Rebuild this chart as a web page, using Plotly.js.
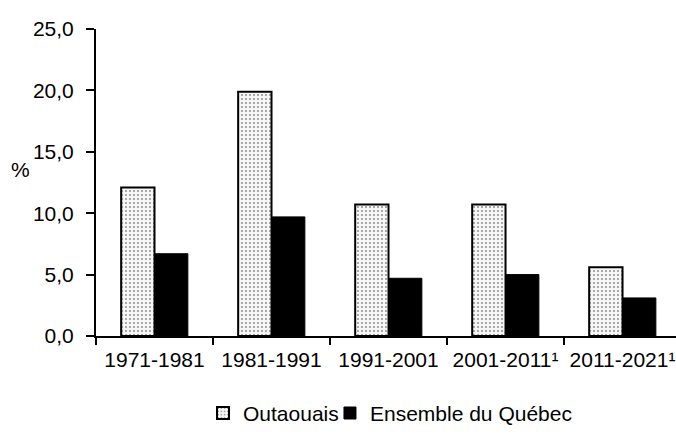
<!DOCTYPE html>
<html>
<head>
<meta charset="utf-8">
<script src="https://cdn.plot.ly/plotly-3.0.1.min.js"></script>
<style>html,body{margin:0;padding:0;background:#fff;overflow:hidden;}</style>
</head>
<body>
<div id="chart" style="width:676px;height:434px;"></div>
<script>
var categories = ['1971-1981', '1981-1991', '1991-2001', '2001-2011¹', '2011-2021¹'];
var outaouais = [12.1, 19.9, 10.7, 10.7, 5.6];
var quebec = [6.7, 9.7, 4.7, 5.0, 3.1];
var seriesNames = ['Outaouais', 'Ensemble du Québec'];
var yTicks = [0, 5, 10, 15, 20, 25];

var FONT = 'Liberation Sans, Arial, sans-serif';

var traces = [
  {
    type: 'bar', x: categories, y: outaouais, name: seriesNames[0], legend: 'legend',
    marker: {
      color: '#ececec',
      line: {color: '#000', width: 2},
      pattern: {shape: '.', fgcolor: '#8a8a8a', bgcolor: '#f6f6f6', size: 4, solidity: 0.18}
    }
  },
  {
    type: 'bar', x: categories, y: quebec, name: seriesNames[1], legend: 'legend2',
    marker: {color: '#000', line: {color: '#000', width: 1}}
  }
];

var legendCommon = {
  orientation: 'h', xanchor: 'left', y: -0.252, yanchor: 'middle',
  font: {family: FONT, size: 21, color: '#000'},
  itemwidth: 30, bgcolor: 'rgba(0,0,0,0)'
};

var layout = {
  width: 676, height: 434,
  margin: {l: 96, r: 0, t: 29, b: 97.5},
  paper_bgcolor: '#fff', plot_bgcolor: '#fff',
  separators: ', ',
  font: {family: FONT, color: '#000', size: 21},
  barmode: 'group', bargap: 0.43, bargroupgap: 0,
  showlegend: true,
  legend: Object.assign({}, legendCommon, {x: 0.1845}),
  legend2: Object.assign({}, legendCommon, {x: 0.4034}),
  xaxis: {
    type: 'category', range: [-0.5, 4.457],
    showline: true, linecolor: '#000', linewidth: 2,
    ticks: 'outside', ticklen: 7, tickwidth: 2, tickcolor: '#000',
    tickson: 'boundaries', showgrid: false, zeroline: false,
    tickangle: 0, ticklabelstandoff: 4,
    tickfont: {family: FONT, size: 21, color: '#000'},
    fixedrange: true
  },
  yaxis: {
    range: [0, 25], tickvals: yTicks, tickformat: '.1f',
    showline: true, linecolor: '#000', linewidth: 2,
    ticks: 'outside', ticklen: 8, tickwidth: 2, tickcolor: '#000',
    showgrid: false, zeroline: false,
    ticklabelstandoff: 8,
    tickfont: {family: FONT, size: 21, color: '#000'},
    fixedrange: true
  },
  annotations: [{
    text: '%', xref: 'paper', yref: 'paper', x: -0.131, y: 0.541,
    xanchor: 'center', yanchor: 'middle', showarrow: false,
    font: {family: FONT, size: 21, color: '#000'}
  }]
};

Plotly.newPlot('chart', traces, layout, {displayModeBar: false, staticPlot: true});
</script>
</body>
</html>
